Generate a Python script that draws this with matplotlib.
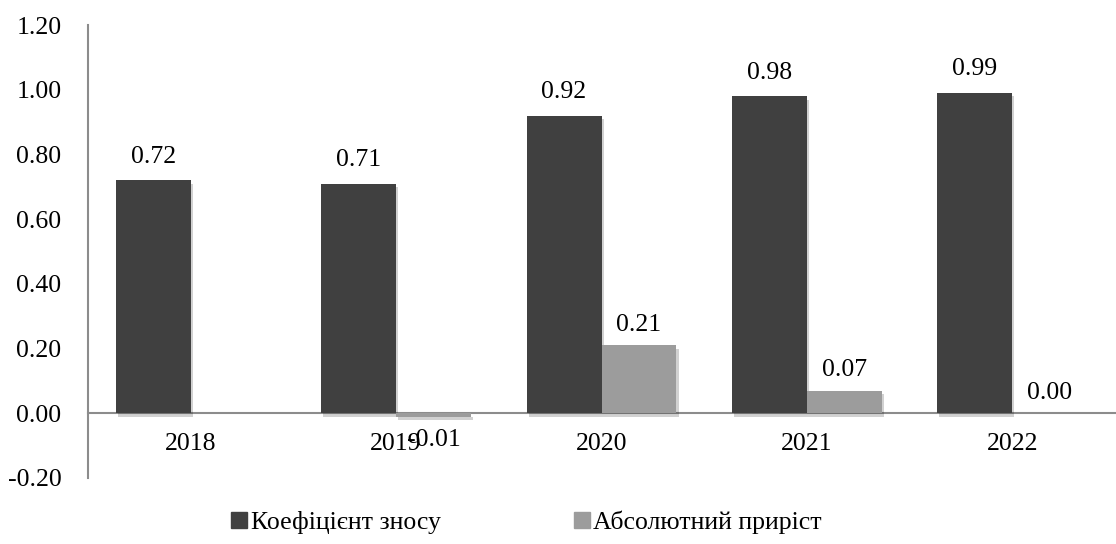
import matplotlib
matplotlib.use("Agg")
import matplotlib.pyplot as plt
import matplotlib.patheffects as pe
from matplotlib.patches import Patch
from matplotlib.font_manager import FontProperties
import numpy as np

years = ["2018", "2019", "2020", "2021", "2022"]
wear = [0.72, 0.71, 0.92, 0.98, 0.99]
growth = [None, -0.01, 0.21, 0.07, 0.00]
series_names = ["Коефіцієнт зносу", "Абсолютний приріст"]
yticks = [-0.20, 0.00, 0.20, 0.40, 0.60, 0.80, 1.00, 1.20]

plt.rcParams['font.family'] = ['Liberation Serif', 'DejaVu Serif']
FS = 18.5

fig = plt.figure(figsize=(11.16, 5.44), dpi=100)
ax = fig.add_axes([88/1116, 1 - 478/544, (1115-88)/1116, (478-25)/544])
ax.spines['bottom'].set_position(('data', 0))

x = np.arange(len(years))
w = 0.365
dark = "#404040"
light = "#9c9c9c"
shadow = [pe.SimplePatchShadow(offset=(1.5, -2.5), alpha=0.18, shadow_rgbFace='#000000'), pe.Normal()]

b1 = ax.bar(x - w/2, wear, w, color=dark, zorder=3)
gx = [xi + w/2 for xi, g in zip(x, growth) if g is not None]
gv = [g for g in growth if g is not None]
b2 = ax.bar(gx, gv, w, color=light, zorder=3)
for b in list(b1) + list(b2):
    b.set_path_effects(shadow)

for xi, v in zip(x - w/2, wear):
    ax.annotate(f"{v:.2f}", (xi, v), xytext=(0, 9), textcoords="offset points",
                ha="center", va="bottom", fontsize=FS)
for xi, v in zip(gx, gv):
    if v < 0:
        ax.annotate(f"{v:.2f}", (xi, v), xytext=(0, -9), textcoords="offset points",
                    ha="center", va="top", fontsize=FS)
    else:
        ax.annotate(f"{v:.2f}", (xi, v), xytext=(0, 7), textcoords="offset points",
                    ha="center", va="bottom", fontsize=FS)

ax.set_xlim(-0.5, len(years) - 0.5)
ax.set_ylim(-0.2, 1.2)
ax.set_yticks(yticks)
ax.set_yticklabels([f"{t:.2f}" for t in yticks], fontsize=FS)
ax.set_xticks(x)
ax.set_xticklabels(years, fontsize=FS)
for s in ['top', 'right']:
    ax.spines[s].set_visible(False)
for s in ['bottom', 'left']:
    ax.spines[s].set_color('#8c8c8c')
    ax.spines[s].set_linewidth(1.5)
ax.tick_params(axis='both', length=0)
ax.tick_params(axis='x', pad=14)
ax.tick_params(axis='y', pad=19)
ax.spines['bottom'].set_zorder(2)

handles = [Patch(color=dark), Patch(color=light)]
legend_font = FontProperties(family=['Liberation Serif', 'DejaVu Serif'], size=18.5)
fig.legend(handles, series_names, loc='center', bbox_to_anchor=(0.472, 1 - 522/544),
           ncol=2, frameon=False, prop=legend_font,
           handlelength=0.6, handleheight=0.6,
           handletextpad=0.15, columnspacing=5.2)

fig.savefig("out.png", dpi=100)
